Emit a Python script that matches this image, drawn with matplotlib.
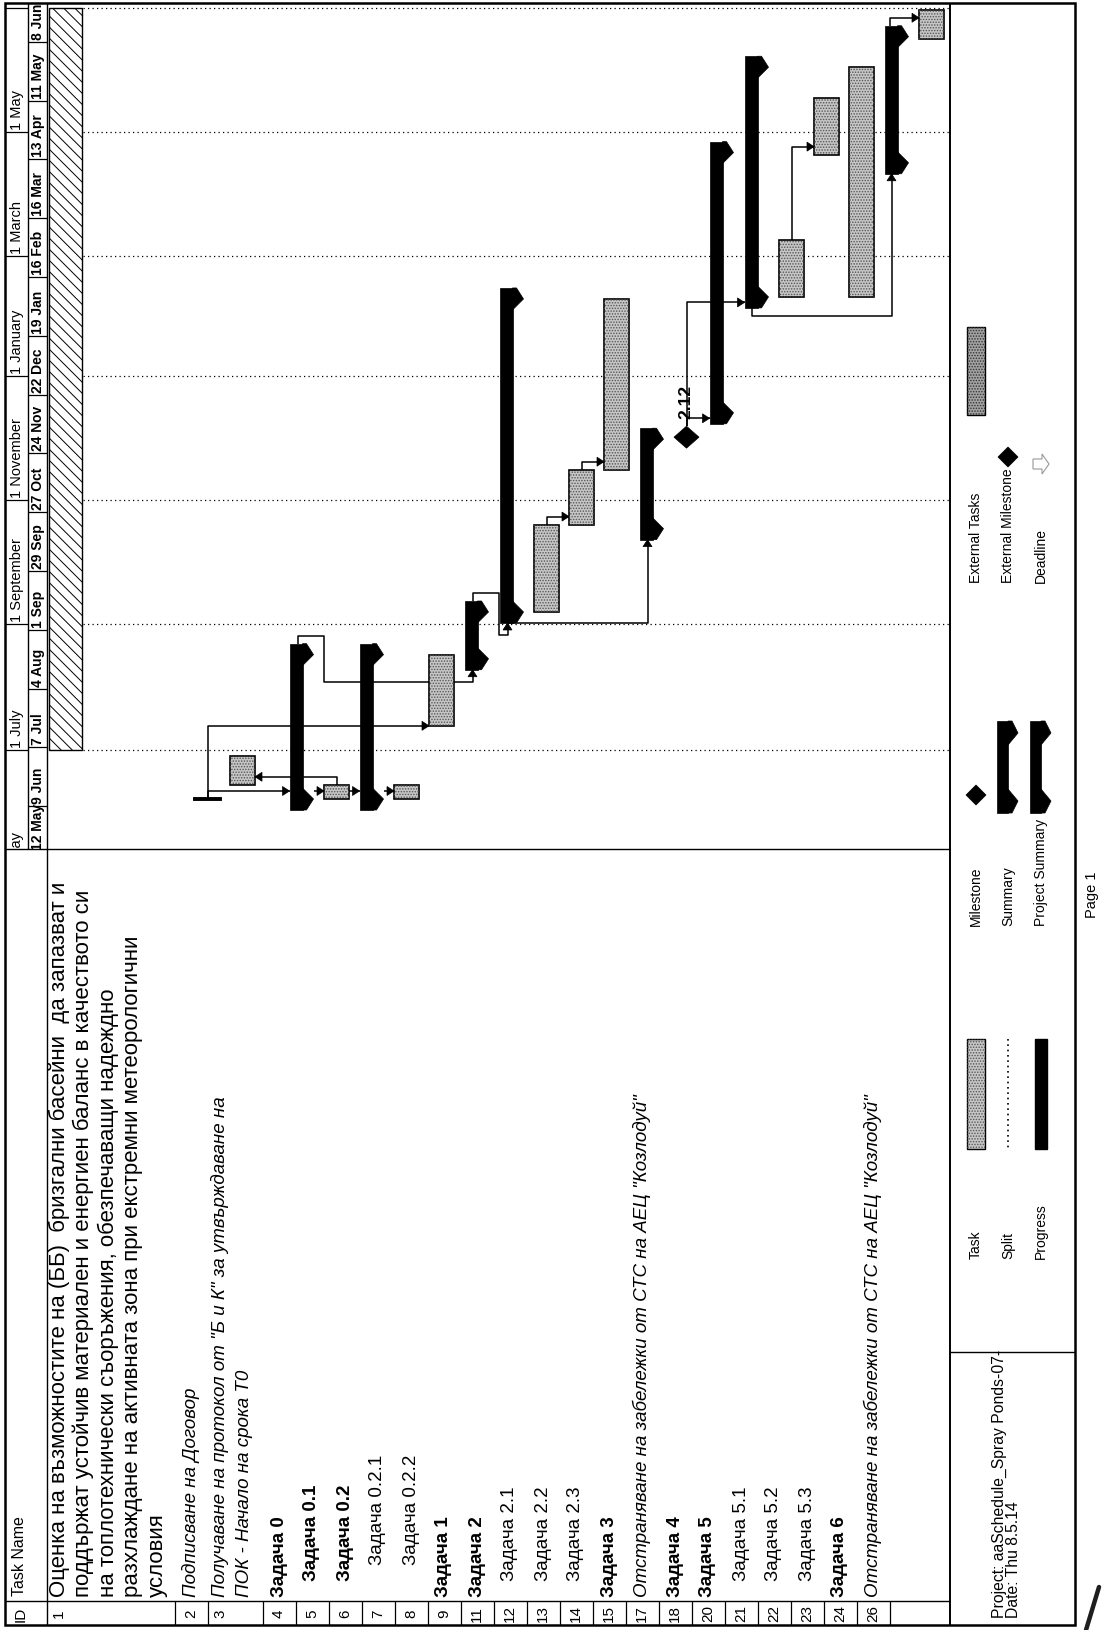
import matplotlib
matplotlib.use('Agg')
import matplotlib.pyplot as plt
import matplotlib.dates as mdates
from matplotlib.patches import Rectangle, Polygon
import pandas as pd

plt.rcParams['font.family'] = ['Liberation Sans', 'DejaVu Sans']
plt.rcParams['hatch.linewidth'] = 0.7

SANS = ['Liberation Sans', 'DejaVu Sans']
NARROW = ['Liberation Sans Narrow', 'Liberation Sans', 'DejaVu Sans']

W, H = 1106, 1631

# ---------------- schedule ----------------
task_ids = ['1', '2', '3', '4', '5', '6', '7', '8', '9', '11', '12',
            '13', '14', '15', '17', '18', '20', '21', '22', '23', '24', '26']
task_names = [
    'Оценка на възможностите на (ББ)  бризгални басейни  да запазват и\n'
    'поддържат устойчив материален и енергиен баланс в качеството си\n'
    'на топлотехнически съоръжения, обезпечаващи надеждно\n'
    'разхлаждане на активната зона при екстремни метеорологични\n'
    'условия',
    'Подписване на Договор',
    'Получаване на протокол от "Б и К" за утвърждаване на\nПОК - Начало на срока Т0',
    'Задача 0', 'Задача 0.1', 'Задача 0.2', 'Задача 0.2.1', 'Задача 0.2.2',
    'Задача 1', 'Задача 2', 'Задача 2.1', 'Задача 2.2', 'Задача 2.3', 'Задача 3',
    'Отстраняване на забележки от СТС на АЕЦ "Козлодуй"',
    'Задача 4', 'Задача 5', 'Задача 5.1', 'Задача 5.2', 'Задача 5.3', 'Задача 6',
    'Отстраняване на забележки от СТС на АЕЦ "Козлодуй"',
]
outline = [0, 0, 0, 0, 1, 1, 2, 2, 0, 0, 1, 1, 1, 0, 0, 0, 0, 1, 1, 1, 0, 0]
text_style = ['plain', 'italic', 'italic', 'bold', 'bold', 'bold', 'narrow', 'narrow',
              'bold', 'bold', 'narrow', 'narrow', 'narrow', 'bold', 'italic', 'bold',
              'bold', 'narrow', 'narrow', 'narrow', 'bold', 'italic']
kinds = ['project', 'flag', 'task', 'summary', 'task', 'summary', 'task', 'task',
         'summary', 'summary', 'task', 'task', 'task', 'summary', 'milestone',
         'summary', 'summary', 'task', 'task', 'task', 'summary', 'task']
starts = ['2014-07-01', '2014-06-07', '2014-06-14', '2014-06-07', '2014-06-07',
          '2014-06-07', '2014-06-07', '2014-07-13', '2014-08-15', '2014-09-07',
          '2014-09-07', '2014-10-20', '2014-11-16', '2014-10-18', '2014-12-02',
          '2014-12-14', '2015-02-09', '2015-02-09', '2015-04-20', '2015-02-09',
          '2015-04-16', '2015-06-16']
finishes = ['2015-07-01', '2014-06-07', '2014-06-28', '2014-08-17', '2014-06-14',
            '2014-08-17', '2014-06-14', '2014-08-17', '2014-09-07', '2015-02-08',
            '2014-10-20', '2014-11-16', '2015-02-08', '2014-12-01', '2014-12-02',
            '2015-04-21', '2015-06-02', '2015-03-09', '2015-05-18', '2015-06-02',
            '2015-06-17', '2015-06-30']
milestone_label = '2.12'

# dependencies and how each connector is routed
link_pred = ['2', '2', '4', '5', '6', '5', '4', '9', '11', '12', '13', '17', '17', '21', '20', '24']
link_succ = ['4', '8', '5', '6', '7', '3', '9', '11', '15', '13', '14', '18', '20', '22', '24', '26']
link_route = ['side', 'stem', 'side', 'side', 'side', 'back', 'wrap', 'wrap', 'ss',
              'drop', 'drop', 'stem', 'stem', 'drop', 'ss_low', 'over']

# timescale
upper_dates = ['2014-05-01', '2014-07-01', '2014-09-01', '2014-11-01',
               '2015-01-01', '2015-03-01', '2015-05-01', '2015-07-01']
upper_labels = ['1 May', '1 July', '1 September', '1 November',
                '1 January', '1 March', '1 May']
lower_dates = pd.date_range('2014-05-12', '2015-06-08', freq='28D')
MONTHS = ['Jan', 'Feb', 'Mar', 'Apr', 'May', 'Jun', 'Jul', 'Aug', 'Sep', 'Oct', 'Nov', 'Dec']

legend_items = [['Task', 'Split', 'Progress'],
                ['Milestone', 'Summary', 'Project Summary'],
                ['External Tasks', 'External Milestone', 'Deadline']]

# ---------------- page frame ----------------
fig = plt.figure(figsize=(W / 100, H / 100), dpi=100)
page = fig.add_axes([0, 0, 1, 1])
page.set_xlim(0, W)
page.set_ylim(H, 0)
page.axis('off')

LEFT, RIGHT, TOP, BOTTOM = 5, 1075, 4, 1626
TIER, HDR = 28, 47
SPLIT, ID_COL = 850, 1602
LEG, PROJ = 950, 1353

def hline(ax, x0, x1, y, lw=1.0):
    ax.plot([x0, x1], [y, y], color='k', lw=lw, solid_capstyle='butt')

def vline(ax, x, y0, y1, lw=1.0):
    ax.plot([x, x], [y0, y1], color='k', lw=lw, solid_capstyle='butt')

page.add_patch(Rectangle((LEFT, TOP), RIGHT - LEFT, BOTTOM - TOP, fill=False, ec='k', lw=1.8))
vline(page, HDR, TOP, BOTTOM)
vline(page, TIER, TOP, SPLIT)
vline(page, LEG, TOP, BOTTOM, lw=1.4)
hline(page, LEFT, LEG, SPLIT)
hline(page, LEFT, LEG, ID_COL)
hline(page, LEG, RIGHT, PROJ)

# ---------------- rows ----------------
# gantt rows (bar slots) and table rows are laid out separately
row_top = []
y = HDR
for name in task_names:
    n = name.count('\n') + 1
    row_top.append(y)
    y += 35 + (n - 1) * (27 if n > 2 else 24)
row_cx = [t + 17.5 for t in row_top]

tab_top = []
y = HDR
for name in task_names:
    n = name.count('\n') + 1
    tab_top.append(y)
    y += 33 if n == 1 else 30 + (n - 1) * 24.5
tab_end = y

# ID column cell borders
for t in tab_top[1:] + [tab_end]:
    vline(page, t, ID_COL, BOTTOM, lw=0.9)

page.text(21, (ID_COL + BOTTOM) / 2, 'ID', rotation=90, rotation_mode='anchor',
          ha='center', va='center', fontsize=11, family=NARROW)
page.text(20, ID_COL - 6, 'Task Name', rotation=90, rotation_mode='anchor',
          ha='left', va='center', fontsize=11.5, family=NARROW)

font_for = {
    'plain': dict(fontsize=16, family=SANS),
    'italic': dict(fontsize=13.5, family=SANS, style='italic'),
    'bold': dict(fontsize=13.5, family=NARROW, weight='bold'),
    'narrow': dict(fontsize=13.5, family=NARROW),
}
for i, (tid, name) in enumerate(zip(task_ids, task_names)):
    lines = name.split('\n')
    first = tab_top[i] + (12 if len(lines) > 1 else 16.5)
    for j, line in enumerate(lines):
        page.text(first + j * 24.5, ID_COL - 5 - 16 * outline[i], line,
                  rotation=90, rotation_mode='anchor', ha='left', va='center',
                  **font_for[text_style[i]])
    page.text(first, (ID_COL + BOTTOM) / 2, tid, rotation=90, rotation_mode='anchor',
              ha='center', va='center', fontsize=11, family=NARROW)

# ---------------- timescale header ----------------
t0 = mdates.datestr2num('2014-05-12')
BODY_LIM = (t0 + 1.4, t0 + 417.6)


def strip_axes(x0, x1, lim):
    a = fig.add_axes([x0 / W, 1 - SPLIT / H, (x1 - x0) / W, (SPLIT - TOP) / H])
    a.set_xlim(x0, x1)
    a.set_ylim(*lim)
    a.axis('off')
    a.patch.set_alpha(0)
    return a, (SPLIT - TOP) / (lim[1] - lim[0])


# major tier (months)
ux, upx = strip_axes(LEFT, TIER, BODY_LIM)
for k, d in enumerate(upper_dates):
    t = mdates.datestr2num(d)
    ux.plot([LEFT, TIER], [t, t], color='k', lw=0.9)
    if k < len(upper_labels):
        ux.text((LEFT + TIER) / 2 + 0.5, t + 3 / upx, upper_labels[k], rotation=90,
                rotation_mode='anchor', ha='left', va='center', fontsize=10.5,
                family=NARROW, clip_on=True)

# minor tier (4-week blocks)
lx, lpx = strip_axes(TIER, HDR, (t0 + 7.62, t0 + 410.5))
for d in lower_dates:
    t = mdates.date2num(d)
    lx.plot([TIER, HDR], [t, t], color='k', lw=0.9)
    lab_t = t + 3 / lpx if t > lx.get_ylim()[0] else lx.get_ylim()[0]
    lx.text((TIER + HDR) / 2 + 0.5, lab_t, f'{d.day} {MONTHS[d.month - 1]}',
            rotation=90, rotation_mode='anchor', ha='left', va='center',
            fontsize=10, weight='bold', family=NARROW, clip_on=True)

# ---------------- gantt pane ----------------
gx, pxd = strip_axes(HDR, LEG, BODY_LIM)

def px(n):
    return n / pxd

sta = [mdates.datestr2num(s) for s in starts]
fin = [mdates.datestr2num(s) for s in finishes]
idx = {t: i for i, t in enumerate(task_ids)}
CAP = px(11)

# dotted gridlines at the major tier
for d in upper_dates[1:]:
    t = mdates.datestr2num(d)
    gx.plot([83, LEG], [t, t], color='k', lw=0.9, ls=(0, (1, 2.6)), zorder=1)


def stipple_box(ax, x, y, w, h, fc='#c6c6c6', dots='#555555', lw=1.2, z=3):
    ax.add_patch(Rectangle((x, y), w, h, fc=fc, ec='k', lw=lw, zorder=z))
    ax.add_patch(Rectangle((x, y), w, h, fill=False, hatch='......', ec=dots, lw=0, zorder=z))


def summary_shape(ax, cx, s, f, cap, z=3):
    xl, xr, tip = cx - 12, cx + 1, cx + 12
    yb, yt = s - cap, f + cap
    ax.add_patch(Rectangle((xl, yb), xr - xl, yt - yb, fc='k', ec='k', lw=0.5, zorder=z))
    ax.add_patch(Polygon([(xr, yt), (xr + 4, yt), (tip, f), (xr, f - cap)],
                         closed=True, fc='k', ec='k', lw=0.5, zorder=z))
    ax.add_patch(Polygon([(xr, yb), (xr + 4, yb), (tip, s), (xr, s + cap)],
                         closed=True, fc='k', ec='k', lw=0.5, zorder=z))


def diamond(ax, cx, t, hx_, hy, z=3):
    ax.add_patch(Polygon([(cx, t + hy), (cx + hx_, t), (cx, t - hy), (cx - hx_, t)],
                         closed=True, fc='k', ec='k', lw=0.5, zorder=z))


for i, k in enumerate(kinds):
    cx = row_cx[i]
    if k == 'project':
        gx.add_patch(Rectangle((cx - 16, sta[i]), 33, fin[i] - sta[i], fc='white',
                               ec='k', lw=1.0, hatch='\\\\\\', zorder=3))
    elif k == 'flag':
        gx.plot([cx - 12.5, cx + 12.5], [sta[i], sta[i]], color='k', lw=2.8, zorder=3)
    elif k == 'task':
        stipple_box(gx, cx - 12.5, sta[i], 25, fin[i] - sta[i])
    elif k == 'summary':
        summary_shape(gx, cx, sta[i], fin[i], CAP)
    elif k == 'milestone':
        diamond(gx, cx, sta[i], 12.5, px(11))
        gx.text(cx - 1, sta[i] + px(19), milestone_label, rotation=90, rotation_mode='anchor',
                ha='left', va='center', fontsize=12.5, weight='bold', family=NARROW, zorder=4)


# ---------------- connectors ----------------
def right_edge(i):
    return row_cx[i] + (12 if kinds[i] == 'summary' else 12.5)

def left_edge(i):
    return row_cx[i] - (12 if kinds[i] == 'summary' else 12.5)

def top(i):
    if kinds[i] == 'summary':
        return fin[i] + CAP
    if kinds[i] == 'milestone':
        return fin[i] + px(11)
    return fin[i]

def bottom(i):
    return sta[i] - (CAP if kinds[i] == 'summary' else 0)


def arrow(x, t, d):
    L, hw = 7, 4.5
    if d == 'right':
        pts = [(x, t), (x - L, t + px(hw)), (x - L, t - px(hw))]
    elif d == 'left':
        pts = [(x, t), (x + L, t + px(hw)), (x + L, t - px(hw))]
    else:
        pts = [(x, t), (x - hw, t - px(L)), (x + hw, t - px(L))]
    gx.add_patch(Polygon(pts, closed=True, fc='k', ec='k', lw=0.5, zorder=5))


for p, s, r in zip(link_pred, link_succ, link_route):
    a, b = idx[p], idx[s]
    if r == 'side':
        lv = sta[b] + px(8)
        if kinds[a] == 'flag':
            pts = [(row_cx[a], sta[a]), (row_cx[a], lv), (left_edge(b), lv)]
        else:
            pts = [(right_edge(a), lv), (left_edge(b), lv)]
        head = 'right'
    elif r == 'stem':
        lv = sta[b] - (CAP / 2 if kinds[b] == 'summary' else 0)
        base = sta[a] if kinds[a] == 'flag' else top(a)
        pts = [(row_cx[a], base), (row_cx[a], lv), (left_edge(b), lv)]
        head = 'right'
    elif r == 'back':
        lv = top(a) + px(8)
        pts = [(row_cx[a], top(a)), (row_cx[a], lv), (right_edge(b), lv)]
        head = 'left'
    elif r == 'drop':
        lv = sta[b] + px(8)
        pts = [(row_cx[a], top(a)), (row_cx[a], lv), (left_edge(b), lv)]
        head = 'right'
    elif r == 'wrap':
        x0, xm, xe = row_cx[a] - 4, row_cx[a] + 22, row_cx[b] - 4
        y1, yb = top(a) + px(8), bottom(b) - px(12)
        pts = [(x0, top(a)), (x0, y1), (xm, y1), (xm, yb), (xe, yb), (xe, bottom(b))]
        head = 'up'
    elif r == 'ss':
        x0, xe = row_cx[a] - 4, row_cx[b] - 4
        pts = [(x0, bottom(a)), (xe, bottom(a)), (xe, bottom(b))]
        head = 'up'
    elif r == 'ss_low':
        x0, xe = row_cx[a] - 5, row_cx[b] - 5
        yl = bottom(a) - px(8)
        pts = [(x0, bottom(a)), (x0, yl), (xe, yl), (xe, bottom(b))]
        head = 'up'
    else:  # 'over'
        x0 = row_cx[a] - 7
        lv = top(a) + px(8)
        pts = [(x0, top(a)), (x0, lv), (left_edge(b), lv)]
        head = 'right'
    xs, ys = zip(*pts)
    gx.plot(xs, ys, color='k', lw=1.1, zorder=2, solid_capstyle='butt')
    arrow(pts[-1][0], pts[-1][1], head)

# ---------------- legend strip ----------------
leg_rows = [976, 1008, 1041]
leg_text_start = [1259, 926, 583]
for col, items in enumerate(legend_items):
    for r, lab in enumerate(items):
        page.text(leg_rows[r], leg_text_start[col], lab, rotation=90, rotation_mode='anchor',
                  ha='left', va='center', fontsize=10, family=NARROW)

# symbols (page pixel coordinates, y grows downward)
stipple_box(page, leg_rows[0] - 9, 1040, 18, 110, lw=1.0)
page.plot([leg_rows[1], leg_rows[1]], [1040, 1150], color='k', lw=1.2, ls=(0, (1, 2.2)))
page.add_patch(Rectangle((leg_rows[2] - 6, 1040), 12, 110, fc='k', ec='k'))

diamond(page, leg_rows[0], 796, 10, 10)
for r in (1, 2):
    cx = leg_rows[r] - 1
    page.add_patch(Rectangle((cx - 10, 722), 11, 92, fc='k', ec='k', lw=0.5))
    page.add_patch(Polygon([(cx + 1, 722), (cx + 5, 722), (cx + 11, 734), (cx + 1, 746)],
                           closed=True, fc='k', ec='k', lw=0.5))
    page.add_patch(Polygon([(cx + 1, 814), (cx + 5, 814), (cx + 11, 802), (cx + 1, 790)],
                           closed=True, fc='k', ec='k', lw=0.5))

stipple_box(page, leg_rows[0] - 9, 328, 18, 88, fc='#a2a2a2', dots='#333333', lw=1.0)
diamond(page, leg_rows[1], 458, 10, 10)
ax_ = leg_rows[2]
page.add_patch(Polygon([(ax_ - 8, 460), (ax_ + 1, 460), (ax_ + 1, 455), (ax_ + 8, 465),
                        (ax_ + 1, 475), (ax_ + 1, 470), (ax_ - 8, 470)],
                       closed=True, fill=False, ec='#9a9a9a', lw=0.8))

page.text(999, 1618, 'Project: aaSchedule_Spray Ponds-07-', rotation=90,
          rotation_mode='anchor', ha='left', va='center', fontsize=11.3, family=NARROW)
page.text(1014, 1618, 'Date: Thu 8.5.14', rotation=90, rotation_mode='anchor',
          ha='left', va='center', fontsize=11.3, family=NARROW)

page.text(1092, 895, 'Page 1', rotation=90, rotation_mode='anchor', ha='center',
          va='center', fontsize=10.5, family=SANS)

# pen stroke on the scanned sheet
page.plot([1099, 1086], [1588, 1631], color='#1e1e1e', lw=3.2, solid_capstyle='round')

fig.savefig('out.png', dpi=100)
